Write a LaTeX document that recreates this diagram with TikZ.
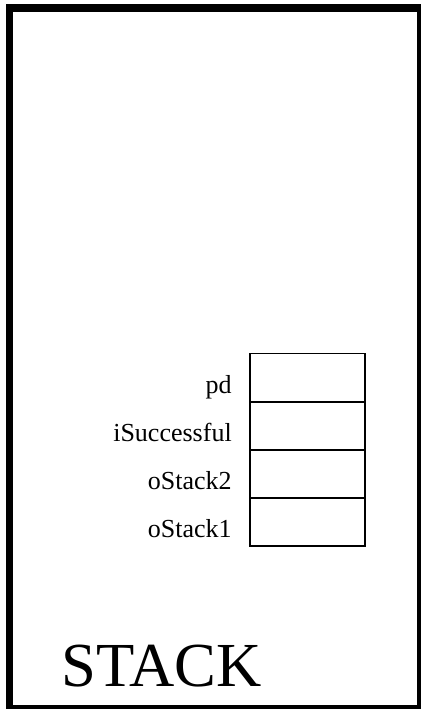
\documentclass[tikz,border=0pt]{standalone}
\usepackage{fontspec}
\setmainfont{Liberation Serif}
\begin{document}
\begin{tikzpicture}[x=0.75pt,y=-0.75pt,
  cell/.style={draw,line width=1.1pt,minimum width=86.25pt,minimum height=36.2pt,inner sep=0pt,outer sep=0pt},
  lbl/.style={anchor=base east,inner sep=0pt,font=\fontsize{19.5pt}{22pt}\selectfont},
  frame/.style={fill=black}]
\useasboundingbox (0,0) rectangle (421,709);
% frame
\fill[frame] (6,4) rectangle (421,12);
\fill[frame] (6,4) rectangle (13,709);
\fill[frame] (417,4) rectangle (421,709);
\fill[frame] (6,705) rectangle (421,709);
% cells
\node[cell] (c1) at (307.5,377.5) {};
\node[cell] (c2) at (307.5,426) {};
\node[cell] (c3) at (307.5,474) {};
\node[cell] (c4) at (307.5,522) {};
% labels
\node[lbl] (l1) at (232,393) {pd};
\node[lbl] (l2) at (232,441) {iSuccessful};
\node[lbl] (l3) at (232,489) {oStack2};
\node[lbl] (l4) at (232,537) {oStack1};
\node[anchor=base west,inner sep=0pt,font=\fontsize{47pt}{50pt}\selectfont] (title) at (61,686) {STACK};
\end{tikzpicture}
\end{document}
